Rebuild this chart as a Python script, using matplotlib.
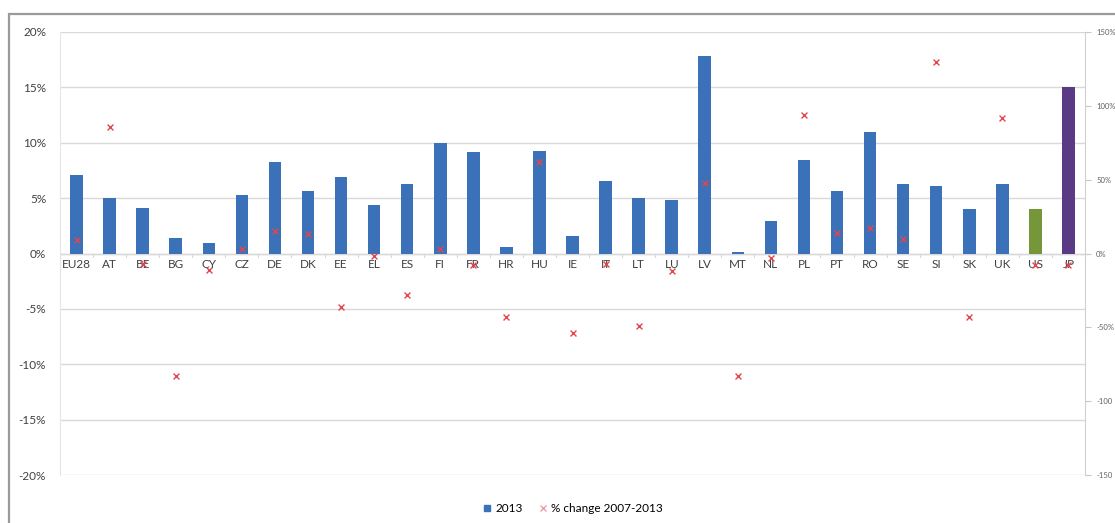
import matplotlib
matplotlib.use('Agg')

import numpy as np
import matplotlib.pyplot as plt
from matplotlib.patches import Rectangle
from matplotlib.lines import Line2D

# =========================
# Data
# =========================
countries = ["EU28", "AT", "BE", "BG", "CY", "CZ", "DE", "DK", "EE", "EL",
             "ES", "FI", "FR", "HR", "HU", "IE", "IT", "LT", "LU", "LV",
             "MT", "NL", "PL", "PT", "RO", "SE", "SI", "SK", "UK", "US", "JP"]

share_2013 = [7.05, 5.0, 4.1, 1.4, 0.95, 5.3, 8.25, 5.65, 6.95, 4.35,
              6.3, 10.0, 9.15, 0.6, 9.3, 1.6, 6.55, 5.0, 4.85, 17.8,
              0.1, 2.9, 8.45, 5.6, 11.0, 6.3, 6.1, 4.0, 6.25, 4.0, 15.0]

change_2007_2013 = [9, 86, -7, -83, -11, 3, 15, 13, -36, -2,
                    -28, 3, -8, -43, 62, -54, -7, -49, -12, 48,
                    -83, -3, 94, 14, 17, 10, 130, -43, 92, -8, -8]

left_ticks = [-20, -15, -10, -5, 0, 5, 10, 15, 20]
right_ticks = [-150, -100, -50, 0, 50, 100, 150]
right_labels = ["-150", "-100", "-50%", "0%", "50%", "100%", "150%"]

bar_colors = ["#3B71B8"] * 29 + ["#76963A", "#5A3A84"]

# =========================
# Figure
# =========================
plt.rcParams['font.family'] = ['Lato', 'DejaVu Sans']

fig = plt.figure(figsize=(11.15, 5.23), dpi=100)
fig.patches.append(Rectangle((9 / 1115, -0.1), 1.2, 1 - 14 / 523 + 0.1,
                             transform=fig.transFigure, fill=False,
                             edgecolor="#9a9a9a", linewidth=1.6))

ax = fig.add_axes([60 / 1115, 1 - 475 / 523, 1025 / 1115, 443 / 523])
ax2 = ax.twinx()

x = np.arange(len(countries))
ax.bar(x, share_2013, width=0.38, color=bar_colors, zorder=2)

ax.set_ylim(-20, 20)
ax.set_yticks(left_ticks)
ax.set_yticklabels([f"{v}%" for v in left_ticks], fontsize=8.5, color="#404040")
ax.grid(axis="y", color="#d9d9d9", linewidth=1, zorder=0)
ax.set_xlim(-0.5, len(countries) - 0.5)
ax.set_xticks([])
for i, c in enumerate(countries):
    ax.text(i, -0.5, c, ha="center", va="top", fontsize=8.5, color="#404040")
for i in range(len(countries) + 1):
    ax.plot([i - 0.5, i - 0.5], [0, -0.35], color="#d9d9d9", linewidth=0.8, zorder=1)
ax.axhline(0, color="#d9d9d9", linewidth=1, zorder=1)

ax2.scatter(x, change_2007_2013, marker="x", s=18, color="#E0474C",
            linewidths=1.0, zorder=3)
ax2.set_ylim(-150, 150)
ax2.set_yticks(right_ticks)
ax2.set_yticklabels(right_labels, fontsize=5.5, color="#606060")
ax2.tick_params(axis="y", length=4, color="#c8c8c8", pad=4)
ax.tick_params(axis="y", length=0, pad=10)

for a in (ax, ax2):
    for s in a.spines.values():
        s.set_visible(False)
ax2.spines["right"].set_visible(True)
ax2.spines["right"].set_color("#d0d0d0")
ax.spines["left"].set_visible(True)
ax.spines["left"].set_color("#e6e6e6")

handles = [Line2D([], [], marker="s", linestyle="", color="#3B71B8", markersize=5),
           Line2D([], [], marker="x", linestyle="", color="#f0a0a8", markersize=4)]
fig.legend(handles, ["2013", "% change 2007-2013"], loc="center",
           bbox_to_anchor=(572 / 1115, 1 - 509 / 523), ncol=2, frameon=False,
           fontsize=8.5, handletextpad=0.2, columnspacing=1.2, handlelength=1)

fig.savefig("out.png", dpi=100)
